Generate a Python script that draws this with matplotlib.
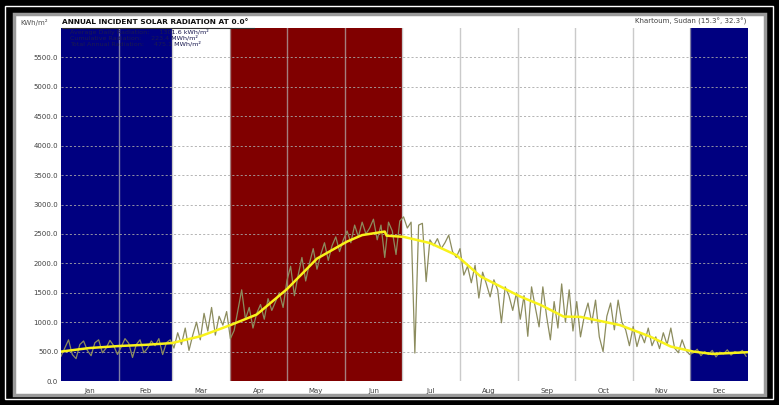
import numpy as np
import matplotlib
matplotlib.use("Agg")
from matplotlib import pyplot as plt
from matplotlib.patches import Rectangle
from matplotlib.lines import Line2D

# data
months = ["Jan", "Feb", "Mar", "Apr", "May", "Jun",
          "Jul", "Aug", "Sep", "Oct", "Nov", "Dec"]
month_days = [31, 28, 31, 30, 31, 30, 31, 31, 30, 31, 30, 31]
month_shade = ["#000080", "#000080", "white", "#800000", "#800000", "#800000",
               "white", "white", "white", "white", "white", "#000080"]

# raw daily radiation, sampled every 2 days (kWh/m2)
raw_day = np.arange(0, 365, 2)
raw_val = [420, 560, 700, 450, 380, 620, 680, 520, 430, 650, 700, 480, 560, 690, 600, 450,
           580, 720, 640, 400, 620, 700, 480, 560, 680, 600, 720, 450, 650, 700,
           560, 820, 620, 900, 520, 780, 1000, 700, 1150, 850, 1250, 780, 1100, 950, 1180, 720,
           860, 1200, 1550, 1050, 1250, 900, 1150, 1300, 1050, 1400, 1200, 1350, 1500, 1250, 1700,
           1950, 1450, 1800, 2100, 1700, 2000, 2250, 1900, 2150, 2350, 2050, 2300, 2450, 2200, 2400,
           2550, 2350, 2650, 2450, 2700, 2500, 2600, 2750, 2400, 2650, 2100, 2700, 2550, 2150, 2720,
           2790, 2600, 2700, 475, 2650, 2680, 1690, 2400, 2300, 2420, 2250, 2350, 2480, 2200, 2100, 2250,
           1800, 1950, 1670, 1970, 1410, 1850, 1650, 1430, 1720, 1550, 990, 1600, 1450, 1200, 1500,
           1050, 1450, 760, 1600, 1250, 920, 1600, 1100, 700, 1350, 900, 1650, 1000, 1550, 850,
           1350, 750, 1100, 1325, 985, 1375, 750, 500, 1100, 1325, 870, 1375, 1000, 870, 600, 925,
           585, 815, 650, 900, 600, 750, 550, 820, 620, 900, 560, 480, 700, 520, 450,
           480, 540, 430, 500, 450, 520, 410, 490, 460, 530, 440, 500, 470, 520, 420]

# smoothed (yellow) curve
smooth_day = [0, 15, 31, 45, 59, 74, 90, 104, 120, 136, 152, 160, 172, 173,
              182, 196, 210, 223, 232, 244, 255, 267, 276, 297, 313, 324,
              336, 346, 365]
smooth_val = [500, 560, 595, 615, 645, 760, 950, 1130, 1560, 2080, 2370, 2480,
              2540, 2470, 2450, 2345, 2140, 1775, 1630, 1435, 1290, 1095, 1090,
              950, 755, 585, 500, 460, 490]

yticks = np.arange(0, 6000, 500)

legend_lines = ["Average Daily Radiation:     1301.6 kWh/m\u00b2",
                "Cumulative Radiation:     223.4 MWh/m\u00b2",
                "Total Annual Radiation:     475.1 MWh/m\u00b2"]

W, H = 779, 405
fig = plt.figure(figsize=(W / 100, H / 100), dpi=100, facecolor="black")

def px(x0, y0, x1, y1):
    # pixel box -> figure fraction rectangle
    return (x0 / W, 1 - y1 / H, (x1 - x0) / W, (y1 - y0) / H)

# decorative frame
r = px(5, 6, 773, 399)
fig.patches.append(Rectangle(r[:2], r[2], r[3], transform=fig.transFigure,
                             fill=False, edgecolor="white", lw=1, zorder=-10))
r = px(14, 14, 765, 395)
fig.patches.append(Rectangle(r[:2], r[2], r[3], transform=fig.transFigure,
                             facecolor="white", edgecolor="#9a9a9a", lw=2.5,
                             zorder=-10))

ax = fig.add_axes(px(61, 28, 748, 381))
ax.set_facecolor("white")

edges = np.concatenate([[0], np.cumsum(month_days)])
for i, c in enumerate(month_shade):
    if c != "white":
        ax.axvspan(edges[i], edges[i + 1], color=c, lw=0, zorder=0)
for e in edges[1:-1]:
    ax.axvline(e, color="#b4b4b4", lw=1, alpha=0.7, zorder=1)
for v in yticks[1:]:
    ax.axhline(v, color="#a8a8a8", lw=0.6, ls=(0, (2.5, 2.5)), zorder=1)

ax.plot(raw_day, raw_val, color="#8c8c5e", lw=0.9, zorder=2)
ax.plot(smooth_day, smooth_val, color="#f8f21a", lw=1.8, zorder=3)

ax.set_xlim(0, 365)
ax.set_ylim(0, 6000)
ax.set_yticks(yticks)
ax.set_yticklabels([f"{v:.1f}" for v in yticks])
ax.set_xticks((edges[:-1] + edges[1:]) / 2)
ax.set_xticklabels(months)
ax.tick_params(axis="both", length=0, labelsize=5, labelcolor="#404040", pad=2)
ax.tick_params(axis="x", pad=5)
for s in ax.spines.values():
    s.set_visible(False)

fig.text(20 / W, 1 - 22 / H, "KWh/m\u00b2", fontsize=5, color="#505050",
         va="center", ha="left")
fig.text(62 / W, 1 - 22 / H, "ANNUAL INCIDENT SOLAR RADIATION AT 0.0\u00b0",
         fontsize=5.3, fontweight="bold", color="#101010", va="center", ha="left")
fig.lines.append(Line2D([62 / W, 254 / W], [1 - 27.5 / H, 1 - 27.5 / H],
                        transform=fig.transFigure, color="#303030", lw=0.8))
fig.text(746 / W, 1 - 21 / H, "Khartoum, Sudan (15.3\u00b0, 32.3\u00b0)",
         fontsize=5, color="#404040", va="center", ha="right")
for k, t in enumerate(legend_lines):
    fig.text(70 / W, 1 - (32 + 6 * k) / H, t, fontsize=4.6, color="#1a1a50",
             va="center", ha="left")

fig.savefig("out.png", dpi=100, facecolor="black")
